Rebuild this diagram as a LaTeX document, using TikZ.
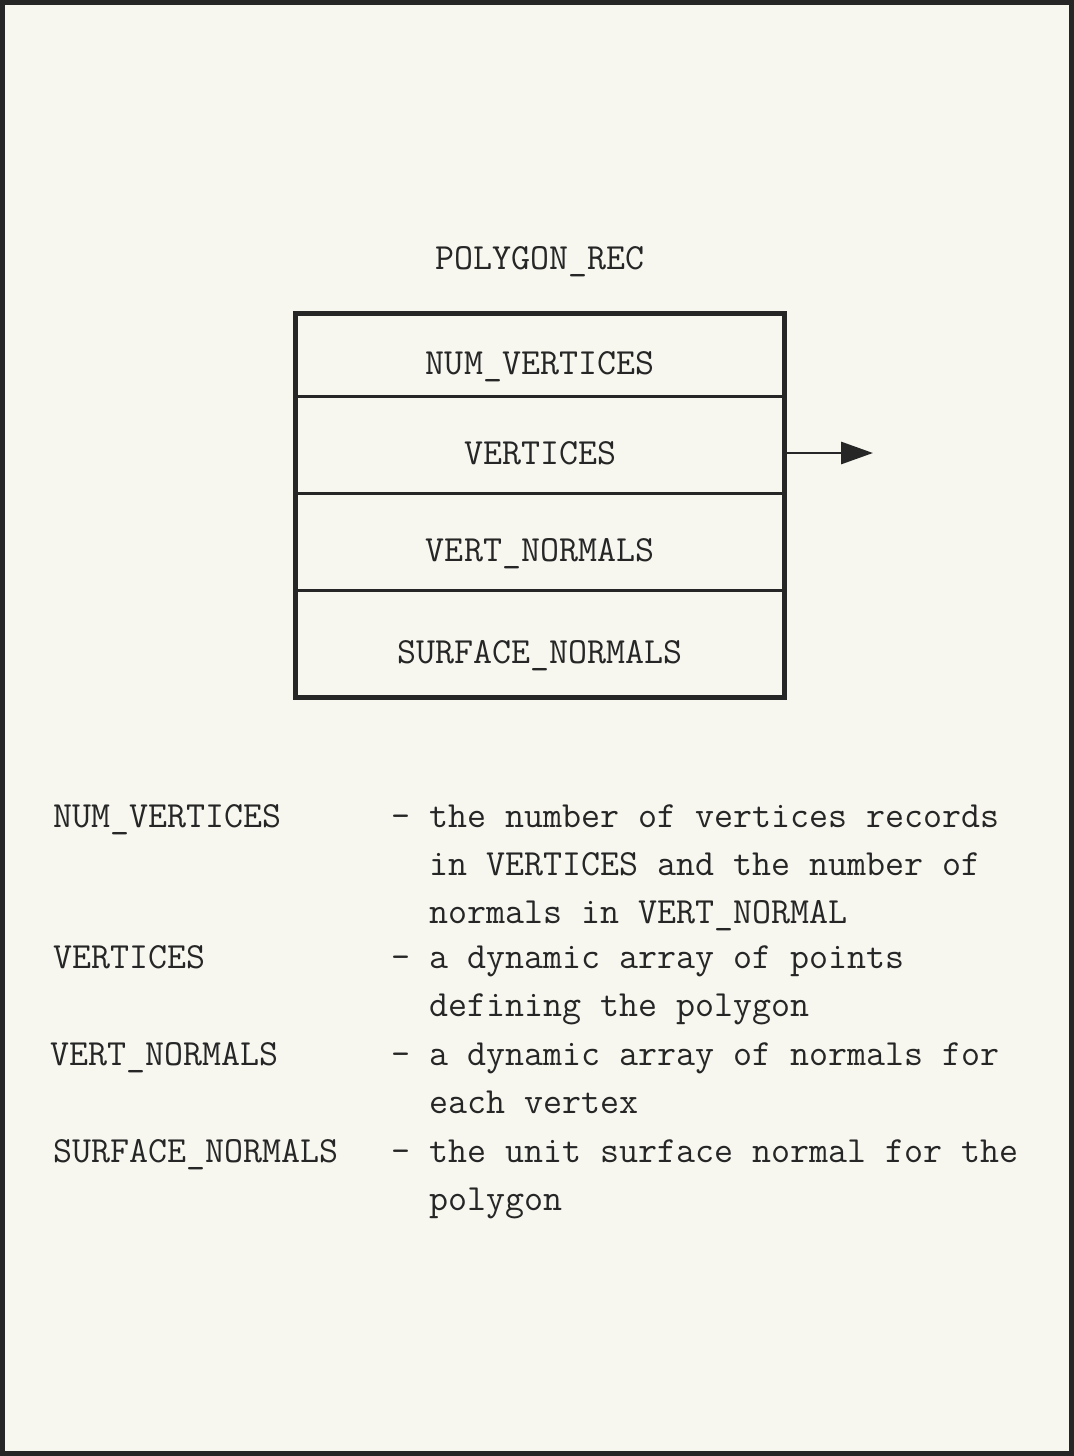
\documentclass[tikz,border=0pt]{standalone}
\usetikzlibrary{positioning,arrows.meta}

\definecolor{paper}{RGB}{247,247,240}
\definecolor{ink}{RGB}{38,38,38}
\newcommand{\recfont}{\ttfamily\fontsize{21}{27.3}\selectfont}

\tikzset{
  recfield/.style={draw=ink, line width=1.7pt, minimum width=9.8cm, inner sep=0pt,
    outer sep=0pt, text=ink, text height=0.78cm, text depth=0pt, font=\recfont},
  entry/.style={anchor=base west, inner sep=0pt, text=ink, font=\recfont},
}

\begin{document}
\begin{tikzpicture}[x=0.02cm, y=-0.02cm]
                % Page and frame
                \fill[paper] (0,0) rectangle (1074,1456);
                \useasboundingbox (0,0) rectangle (1074,1456);
                \draw[ink, line width=0.1cm] (2.5,2.5) rectangle (1071.5,1453.5);

                % Record title
                \node[entry, anchor=base] (title) at (540,270) {POLYGON\_REC};

                % Record fields, stacked
                \node[recfield, minimum height=1.68cm] (num) at (540,355) {NUM\_VERTICES};
                \node[recfield, minimum height=1.94cm, below=0pt of num] (vert) {VERTICES};
                \node[recfield, minimum height=1.94cm, below=0pt of vert] (vnorm) {VERT\_NORMALS};
                \node[recfield, minimum height=2.14cm, below=0pt of vnorm] (snorm) {SURFACE\_NORMALS};
                \draw[ink, line width=0.1cm] (num.north west) rectangle (snorm.south east);

                % Pointer out of VERTICES
                \coordinate (vhead) at (873,453);
                \draw[ink, line width=1.7pt, -{Triangle[length=0.64cm,width=0.44cm]}] (vert.east |- vhead) -- (vhead);

                % Field descriptions (multi-line nodes sit on their last baseline)
                \node[entry] (knum) at (53,827) {NUM\_VERTICES};
                \node[entry, align=left] (dnum) at (391,923) {- the number of vertices records\\\hphantom{- }in VERTICES and the number of\\\hphantom{- }normals in VERT\_NORMAL};

                \node[entry] (kvert) at (53,968) {VERTICES};
                \node[entry, align=left] (dvert) at (391,1016) {- a dynamic array of points\\\hphantom{- }defining the polygon};

                \node[entry] (kvnorm) at (50,1065) {VERT\_NORMALS};
                \node[entry, align=left] (dvnorm) at (391,1113) {- a dynamic array of normals for\\\hphantom{- }each vertex};

                \node[entry] (ksnorm) at (53,1162) {SURFACE\_NORMALS};
                \node[entry, align=left] (dsnorm) at (391,1210) {- the unit surface normal for the\\\hphantom{- }polygon};

\end{tikzpicture}
\end{document}
